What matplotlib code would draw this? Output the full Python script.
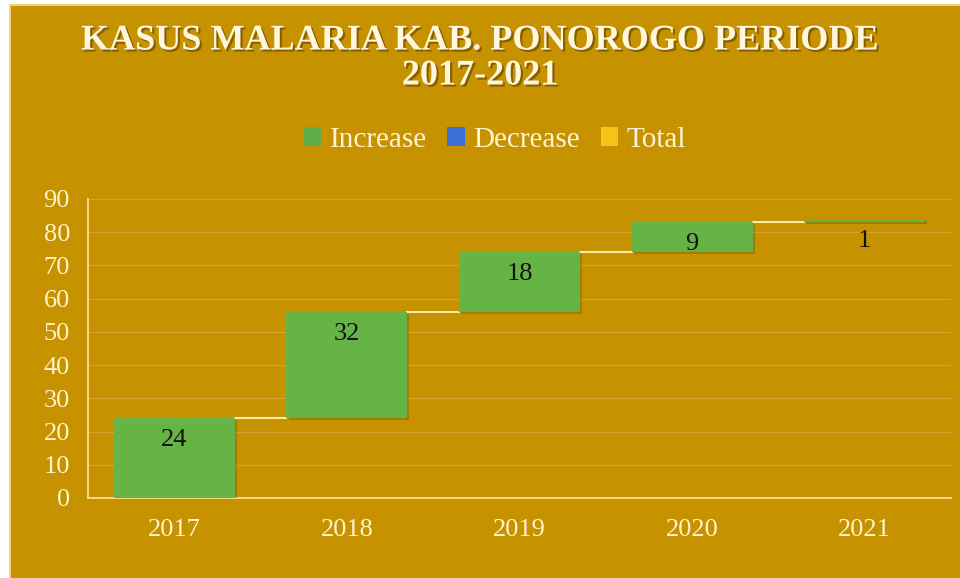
import matplotlib
matplotlib.use("Agg")
import matplotlib.pyplot as plt
import matplotlib.patheffects as pe
from matplotlib.patches import Rectangle

# data
years = ["2017", "2018", "2019", "2020", "2021"]
changes = [24, 32, 18, 9, 1]
legend_names = ["Increase", "Decrease", "Total"]
legend_colors = ["#5fae4a", "#3a6fd8", "#f6c21a"]
yticks = [0, 10, 20, 30, 40, 50, 60, 70, 80, 90]

bg = "#c69200"
cream = "#fff3cc"
green = "#66b445"

plt.rcParams["font.family"] = ["Liberation Serif", "DejaVu Serif"]

fig = plt.figure(figsize=(9.6, 5.78), dpi=100)
fig.patch.set_facecolor("white")
# chart area frame (white margin at top and left like the reference)
frame = Rectangle((10 / 960, -0.01), 1.0, 1 - 5 / 578 + 0.01,
                  transform=fig.transFigure, facecolor=bg,
                  edgecolor="#f3d27a", linewidth=1.5, zorder=-5)
fig.patches.append(frame)

ax = fig.add_axes([88 / 960, 1 - 498 / 578, (951 - 88) / 960, (498 - 199) / 578])
ax.set_facecolor(bg)
ax.patch.set_alpha(0)
ax.set_zorder(2)

# waterfall bottoms from running totals
bottoms = []
run = 0
for c in changes:
    bottoms.append(run)
    run += c
x = list(range(len(years)))
width = 0.7

shadow = [pe.SimplePatchShadow(offset=(1.5, -1.5), alpha=0.22), pe.Normal()]
bars = ax.bar(x, changes, width, bottom=bottoms, color=green, edgecolor="none",
              zorder=3)
for b in bars:
    b.set_path_effects(shadow)

# connector lines
for i in range(len(years) - 1):
    top = bottoms[i] + changes[i]
    ax.plot([x[i] + width / 2, x[i + 1] - width / 2], [top, top],
            color="#ffe9a8", lw=1.5, zorder=2)

# labels inside bars near the top
for i, c in enumerate(changes):
    top = bottoms[i] + c
    ax.annotate(str(c), (x[i], top), xytext=(0, -8), textcoords="offset points",
                ha="center", va="top", fontsize=19, color="#111111", zorder=5)

ax.set_xlim(-0.5, len(years) - 0.5)
ax.set_ylim(0, 90)
ax.set_yticks(yticks)
ax.set_xticks(x)
ax.set_xticklabels(years)
ax.tick_params(axis="both", length=0, colors=cream, labelsize=19)
ax.tick_params(axis="x", pad=15)
ax.tick_params(axis="y", pad=13)
ax.grid(axis="y", color="#d5a232", lw=0.9, zorder=0)
for s in ["top", "right"]:
    ax.spines[s].set_visible(False)
for s in ["left", "bottom"]:
    ax.spines[s].set_color("#ffe7a0")
    ax.spines[s].set_linewidth(1.2)

# title
title_fx = [pe.withSimplePatchShadow(offset=(1.5, -1.5), shadow_rgbFace="#5a3c00", alpha=0.6)]
fig.text(0.5, 1 - 41 / 578, "KASUS MALARIA KAB. PONOROGO PERIODE", ha="center",
         va="center", fontsize=26, fontweight="bold", color="#fff6dc",
         path_effects=title_fx)
fig.text(0.5, 1 - 76 / 578, "2017-2021", ha="center", va="center", fontsize=26,
         fontweight="bold", color="#fff6dc", path_effects=title_fx)

# legend
handles = [Rectangle((0, 0), 1, 1, facecolor=c, edgecolor="none") for c in legend_colors]
leg = fig.legend(handles, legend_names, loc="center", bbox_to_anchor=(495 / 960, 1 - 140 / 578),
                 ncol=3, frameon=False, fontsize=21, handlelength=0.6, handleheight=0.6,
                 handletextpad=0.3, columnspacing=0.7)
for t in leg.get_texts():
    t.set_color("#fff3d6")

fig.savefig("out.png", dpi=100, facecolor=fig.get_facecolor())
